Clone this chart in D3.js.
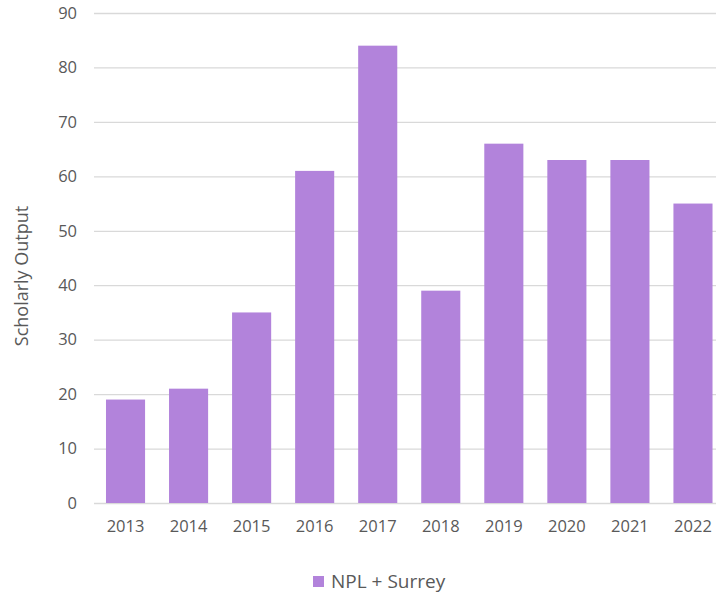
<html>
<head>
  <style>
    body { margin: 0; background: #fff; }
    svg text { font-family: "Open Sans", sans-serif; fill: #595959; }
    svg .grid line { stroke: #d9d9d9; stroke-width: 1.3px; }
    svg .domain { display: none; }
  </style>
</head>
<body>
  <div id="chart"></div>
  <script src="https://d3js.org/d3.v7.min.js"></script>
  <script>
    // data
    var years = ["2013", "2014", "2015", "2016", "2017", "2018", "2019", "2020", "2021", "2022"];
    var output = [19, 21, 35, 61, 84, 39, 66, 63, 63, 55];
    var yTicks = [0, 10, 20, 30, 40, 50, 60, 70, 80, 90];
    var seriesName = "NPL + Surrey";
    var barColor = "#b283db";

    var plot = { left: 94, top: 13, width: 630.5, height: 490 };

    var svg = d3.select("#chart")
      .append("svg")
        .attr("width", 716)
        .attr("height", 595);

    var xScale = d3.scaleBand().domain(years)
      .range([plot.left, plot.left + plot.width])
      .paddingInner(0.38).paddingOuter(0.19);
    var yScale = d3.scaleLinear().domain([0, 90])
      .range([plot.top + plot.height, plot.top]);

    // horizontal grid + y labels
    var yAxis = d3.axisLeft(yScale)
      .tickValues(yTicks)
      .tickSize(-plot.width)
      .tickPadding(17);

    var gy = svg.append("g")
        .classed("grid", true)
        .attr("transform", "translate(" + plot.left + ",0)")
        .call(yAxis);
    gy.selectAll(".tick text").style("font-size", "16.5px");

    // bars
    svg.selectAll("rect.bar")
      .data(output)
      .enter().append("rect")
        .attr("class", "bar")
        .attr("x", function (d, i) { return xScale(years[i]); })
        .attr("width", xScale.bandwidth())
        .attr("y", function (d) { return yScale(d); })
        .attr("height", function (d) { return yScale(0) - yScale(d); })
        .style("fill", barColor);

    // x axis labels
    var xAxis = d3.axisBottom(xScale).tickSize(0).tickPadding(17);
    var gx = svg.append("g")
        .attr("transform", "translate(0," + (plot.top + plot.height) + ")")
        .call(xAxis);
    gx.selectAll(".tick text").style("font-size", "16.5px");

    // y axis title
    svg.append("text")
      .attr("transform", "translate(28,276) rotate(-90)")
      .style("text-anchor", "middle")
      .style("font-size", "18px")
      .text("Scholarly Output");

    // legend
    svg.append("rect")
      .attr("x", 313).attr("y", 576)
      .attr("width", 11).attr("height", 11)
      .style("fill", barColor);
    svg.append("text")
      .attr("x", 331).attr("y", 588)
      .style("font-size", "19px")
      .text(seriesName);
  </script>
</body>
</html>
